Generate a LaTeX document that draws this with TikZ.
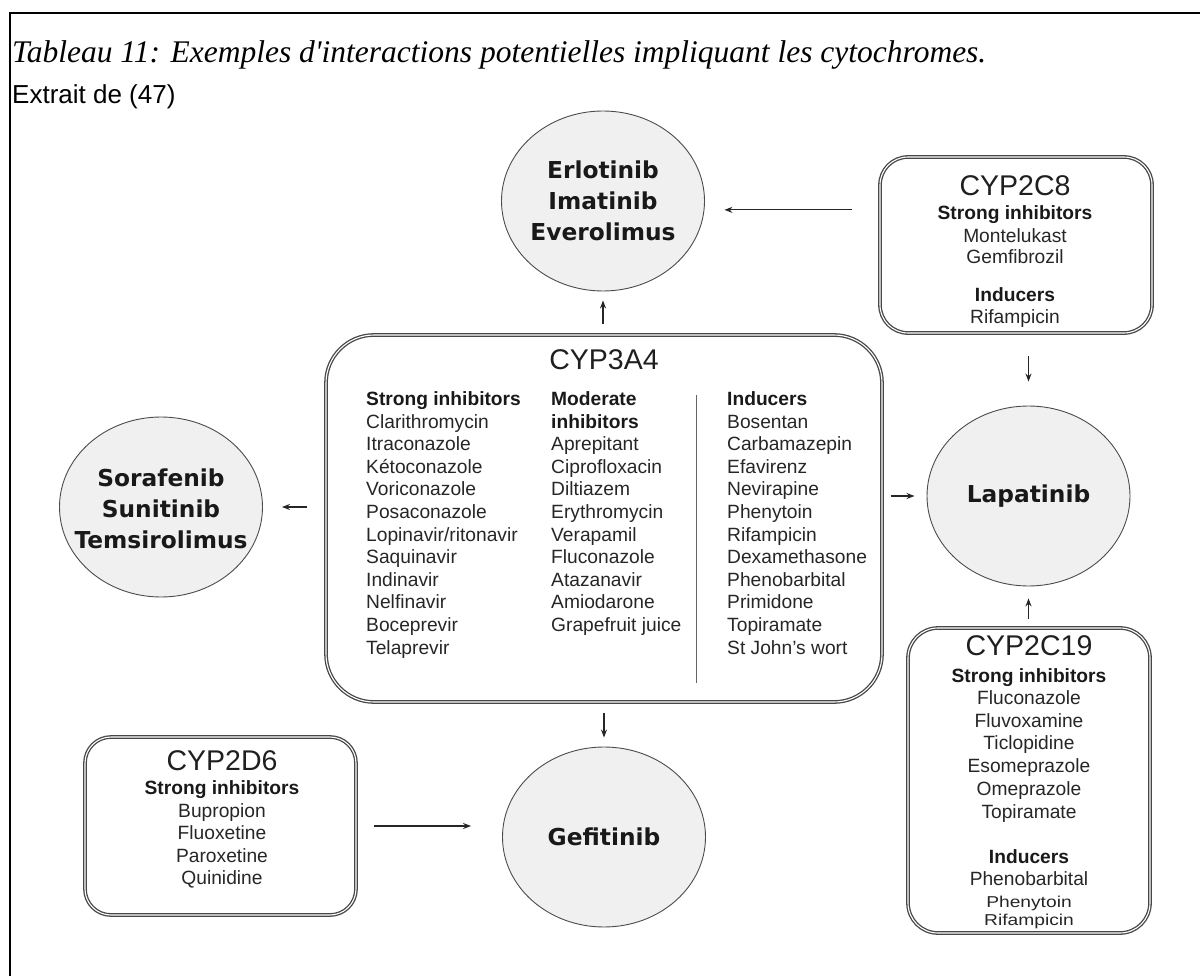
\documentclass[tikz,border=0pt]{standalone}
\usepackage{fontspec}
\setmainfont{Liberation Serif}
\setsansfont{Liberation Sans}
\newfontfamily\verdfont{DejaVu Sans}
\usetikzlibrary{shapes.geometric,arrows.meta}
\begin{document}
\begin{tikzpicture}[x=1pt,y=-1pt,
  drug/.style={ellipse, draw=black!70, line width=0.9pt, fill=black!6, minimum width=203pt, minimum height=180pt, inner sep=0pt},
  drugtext/.style={font=\verdfont\bfseries\fontsize{23.3}{31}\selectfont, align=center, inner sep=0pt, text=black!90},
  cyp/.style={rectangle, draw=black!72, line width=1.3pt, double=white, double distance=1.1pt, inner sep=0pt},
  head/.style={font=\sffamily\fontsize{28.5}{30}\selectfont, inner sep=0pt, anchor=base, text=black!88},
  item/.style={font=\sffamily\fontsize{19.2}{22}\selectfont, inner sep=0pt, text=black!85},
  bitem/.style={item, font=\sffamily\bfseries\fontsize{19.2}{22}\selectfont, text=black!90},
  arr/.style={-{Stealth[length=8pt,width=6pt]}, line width=1.2pt, draw=black!85},
  frameline/.style={line width=1.4pt, draw=black}
]
\useasboundingbox (0,0) rectangle (1200,976);
% frame
\coordinate (ftl) at (10,13);
\coordinate (ftr) at (1200,13);
\coordinate (fbl) at (10,976);
\draw[frameline] (ftr) -- (ftl) -- (fbl);
% title
\node[anchor=base west, inner sep=0pt, font=\itshape\fontsize{31.5}{36}\selectfont] (title) at (12,63) {Tableau 11: Exemples d\textquotesingle interactions potentielles impliquant les cytochromes.};
\node[anchor=base west, inner sep=0pt, font=\sffamily\fontsize{26}{30}\selectfont] (src) at (12,104) {Extrait de (47)};

% drug ellipses
\node[drug] (erlo) at (603,201) {};
\node[drugtext] (erlot) at (erlo) {Erlotinib\\Imatinib\\Everolimus};
\node[drug] (soraf) at (161,507) {};
\node[drugtext] (soraft) at (161,509) {Sorafenib\\Sunitinib\\Temsirolimus};
\node[drug] (lapa) at (1028.5,496) {};
\node[drugtext] (lapat) at (lapa) {Lapatinib};
\node[drug] (gefi) at (604,837) {};
\node[drugtext] (gefit) at (gefi) {Gefitinib};

% CYP3A4
\node[cyp, rounded corners=48pt, minimum width=556pt, minimum height=367pt] (cyp3a4) at (604,518.5) {};
\node[head] (h3a4) at (604,370) {CYP3A4};
\draw[line width=1pt, draw=black!60] (696,395) coordinate (sept) -- (696,683) coordinate (sepb);
\node[bitem, anchor=base west] (c1h) at (366,405.5) {Strong inhibitors};
\foreach \t [count=\i] in {Clarithromycin,Itraconazole,Kétoconazole,Voriconazole,Posaconazole,Lopinavir/ritonavir,Saquinavir,Indinavir,Nelfinavir,Boceprevir,Telaprevir}
  \node[item, anchor=base west] (c1r\i) at (366,{405.5+22.6*\i}) {\t};
\node[bitem, anchor=base west] (c2h) at (551,405.5) {Moderate};
\node[bitem, anchor=base west] (c2h2) at (551,428.1) {inhibitors};
\foreach \t [count=\i from 2] in {Aprepitant,Ciprofloxacin,Diltiazem,Erythromycin,Verapamil,Fluconazole,Atazanavir,Amiodarone,Grapefruit juice}
  \node[item, anchor=base west] (c2r\i) at (551,{405.5+22.6*\i}) {\t};
\node[bitem, anchor=base west] (c3h) at (727,405.5) {Inducers};
\foreach \t [count=\i] in {Bosentan,Carbamazepin,Efavirenz,Nevirapine,Phenytoin,Rifampicin,Dexamethasone,Phenobarbital,Primidone,Topiramate,St John's wort}
  \node[item, anchor=base west] (c3r\i) at (727,{405.5+22.6*\i}) {\t};

% CYP2C8
\node[cyp, rounded corners=28pt, minimum width=272pt, minimum height=176pt] (cyp2c8) at (1016,245) {};
\node[head] (h2c8) at (1015,195.5) {CYP2C8};
\node[bitem, anchor=base] (a1) at (1015,219.5) {Strong inhibitors};
\node[item, anchor=base] (a2) at (1015,242.5) {Montelukast};
\node[item, anchor=base] (a3) at (1015,263.5) {Gemfibrozil};
\node[bitem, anchor=base] (a4) at (1015,301.5) {Inducers};
\node[item, anchor=base] (a5) at (1015,323.5) {Rifampicin};

% CYP2C19
\node[cyp, rounded corners=30pt, minimum width=242pt, minimum height=305pt] (cyp2c19) at (1029,780.5) {};
\node[head] (h2c19) at (1029,655.5) {CYP2C19};
\node[bitem, anchor=base] (b0) at (1029,682.5) {Strong inhibitors};
\foreach \t [count=\i] in {Fluconazole,Fluvoxamine,Ticlopidine,Esomeprazole,Omeprazole,Topiramate}
  \node[item, anchor=base] (b\i) at (1029,{681.8+22.7*\i}) {\t};
\node[bitem, anchor=base] (b7) at (1029,863.5) {Inducers};
\node[item, anchor=base] (b8) at (1029,885.5) {Phenobarbital};
\node[item, anchor=base] (b9) at (1029,907.5) {\scalebox{1}[0.82]{Phenytoin}};
\node[item, anchor=base] (b10) at (1029,925) {\scalebox{1}[0.82]{Rifampicin}};

% CYP2D6
\node[cyp, rounded corners=26pt, minimum width=271pt, minimum height=178pt] (cyp2d6) at (220.5,826) {};
\node[head] (h2d6) at (222,770.5) {CYP2D6};
\node[bitem, anchor=base] (d0) at (222,794.5) {Strong inhibitors};
\foreach \t [count=\i] in {Bupropion,Fluoxetine,Paroxetine,Quinidine}
  \node[item, anchor=base] (d\i) at (222,{794.5+22.5*\i}) {\t};

% arrows
\draw[arr, shorten <=10pt, shorten >=9pt] (cyp3a4.north -| erlo.south) -- (erlo.south);
\draw[arr, shorten <=27pt, shorten >=20pt] (cyp2c8.west |- erlo.-5) -- (erlo.-5);
\draw[arr, shorten <=18pt, shorten >=19pt] (cyp3a4.west |- soraf.east) -- (soraf.east);
\draw[arr, shorten <=8pt, shorten >=12pt] (cyp3a4.east |- lapa.west) -- (lapa.west);
\draw[arr, shorten <=22pt, shorten >=24pt] (cyp2c8.south -| lapa.north) -- (lapa.north);
\draw[arr, shorten <=8pt, shorten >=12pt] (cyp2c19.north -| lapa.south) -- (lapa.south);
\draw[arr, shorten <=10pt, shorten >=9pt] (cyp3a4.south -| gefi.north) -- (gefi.north);
\draw[arr, shorten <=17pt, shorten >=31pt] (cyp2d6.east) -- (cyp2d6.east -| gefi.west);
\end{tikzpicture}
\end{document}
